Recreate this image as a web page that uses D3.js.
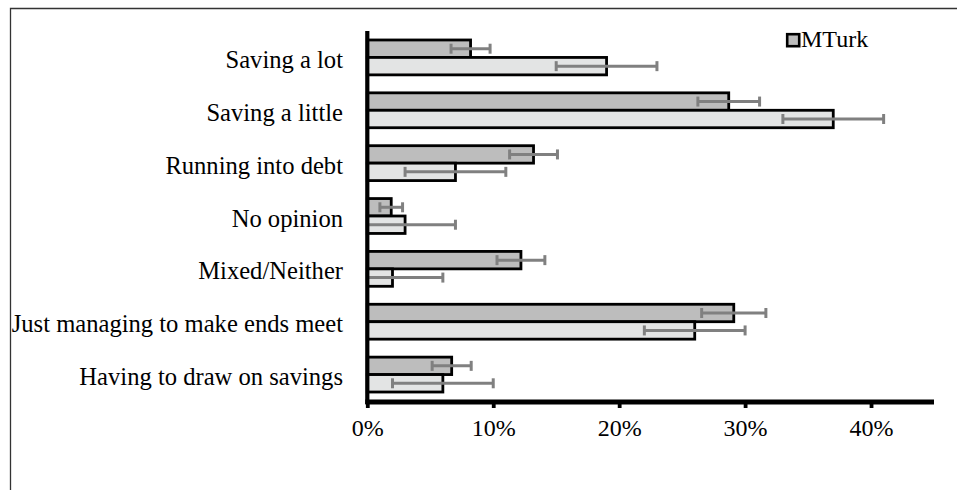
<!DOCTYPE html>
<html>
<head>
<meta charset="utf-8">
<script src="https://cdn.jsdelivr.net/npm/d3@7"></script>
<style>
  html, body { margin: 0; padding: 0; background: #fff; }
  svg { display: block; }
  text { font-family: "Liberation Serif", "Times New Roman", Times, serif; fill: #000; }
</style>
</head>
<body>
<svg id="chart" width="957" height="490"></svg>
<script>
// Answers to the financial-situation question, in display order (top to bottom)
const categories = [
  "Saving a lot",
  "Saving a little",
  "Running into debt",
  "No opinion",
  "Mixed/Neither",
  "Just managing to make ends meet",
  "Having to draw on savings"
];

// MTurk sample shares (%) and half-widths of their error bars
const mturkValues = [8.2, 28.7, 13.2, 1.9, 12.2, 29.1, 6.7];
const mturkErrors = [1.55, 2.45, 1.9, 0.9, 1.9, 2.55, 1.55];

// Comparison sample shares (%) and half-widths of their error bars
const surveyValues = [19, 37, 7, 3, 2, 26, 6];
const surveyErrors = [4, 4, 4, 4, 4, 4, 4];

const xTicks = [0, 10, 20, 30, 40];
const xMax = 45;

const series = [
  { key: "mturk", label: "MTurk", values: mturkValues, errors: mturkErrors, fill: "#bdbdbd" },
  { key: "survey", label: "", values: surveyValues, errors: surveyErrors, fill: "#e3e4e4" }
];

const svg = d3.select("#chart");

// Outer frame
svg.append("path")
  .attr("d", "M10.5,495 V8.5 H965")
  .attr("fill", "none")
  .attr("stroke", "#333")
  .attr("stroke-width", 1.3);

const x = d3.scaleLinear().domain([0, xMax]).range([367.3, 934]);
const y = d3.scaleBand().domain(categories).range([31, 401])
  .paddingInner(0.34).paddingOuter(0.17);
const ySub = d3.scaleBand().domain(series.map(s => s.key)).range([0, y.bandwidth()]);

const rows = categories.map((c, i) => ({
  category: c,
  bars: series.map(s => ({ key: s.key, fill: s.fill, value: s.values[i], err: s.errors[i] }))
}));

const groups = svg.append("g").selectAll("g")
  .data(rows).join("g")
  .attr("transform", d => `translate(0,${y(d.category)})`);

// Bars
groups.selectAll("rect")
  .data(d => d.bars).join("rect")
  .attr("x", x(0))
  .attr("y", d => ySub(d.key))
  .attr("width", d => x(d.value) - x(0))
  .attr("height", ySub.bandwidth())
  .attr("fill", d => d.fill)
  .attr("stroke", "#000")
  .attr("stroke-width", 2.8);

// Error bars
const errG = groups.selectAll("g.err")
  .data(d => d.bars).join("g")
  .attr("class", "err")
  .attr("transform", d => `translate(0,${ySub(d.key) + ySub.bandwidth() / 2})`)
  .attr("stroke", "#808080")
  .attr("stroke-width", 3);

errG.append("line")
  .attr("x1", d => x(Math.max(0, d.value - d.err)))
  .attr("x2", d => x(d.value + d.err));
errG.append("line")
  .attr("x1", d => x(Math.max(0, d.value - d.err)))
  .attr("x2", d => x(Math.max(0, d.value - d.err)))
  .attr("y1", -5).attr("y2", 5);
errG.append("line")
  .attr("x1", d => x(d.value + d.err))
  .attr("x2", d => x(d.value + d.err))
  .attr("y1", -5).attr("y2", 5);

// Category labels
svg.append("g").selectAll("text")
  .data(categories).join("text")
  .attr("x", 343)
  .attr("y", d => y(d) + y.bandwidth() / 2)
  .attr("dy", "0.43em")
  .attr("text-anchor", "end")
  .attr("font-size", 24.6)
  .text(d => d);

// X axis
const xAxis = svg.append("g")
  .attr("transform", "translate(0,402)")
  .call(d3.axisBottom(x).tickValues(xTicks).tickFormat(d => d + "%").tickSize(6).tickPadding(11));
xAxis.select(".domain")
  .attr("d", `M${x(0) - 2},0H${x(xMax)}`)
  .attr("stroke", "#000").attr("stroke-width", 5);
xAxis.selectAll(".tick line").attr("stroke", "#000").attr("stroke-width", 3.8);
xAxis.selectAll(".tick text")
  .attr("font-size", 24)
  .attr("font-family", "Liberation Serif, Times New Roman, serif")
  .attr("fill", "#000");

// Y axis line
svg.append("line")
  .attr("x1", x(0)).attr("x2", x(0))
  .attr("y1", 31).attr("y2", 404)
  .attr("stroke", "#000").attr("stroke-width", 4.2);

// Legend
const legend = svg.append("g").attr("transform", "translate(786,33)");
legend.append("rect")
  .attr("x", 1.2).attr("y", 1.2)
  .attr("width", 12).attr("height", 12)
  .attr("fill", series[0].fill)
  .attr("stroke", "#000").attr("stroke-width", 2.6);
legend.append("text")
  .attr("x", 15).attr("y", 14)
  .attr("font-size", 24)
  .text(series[0].label);
</script>
</body>
</html>
